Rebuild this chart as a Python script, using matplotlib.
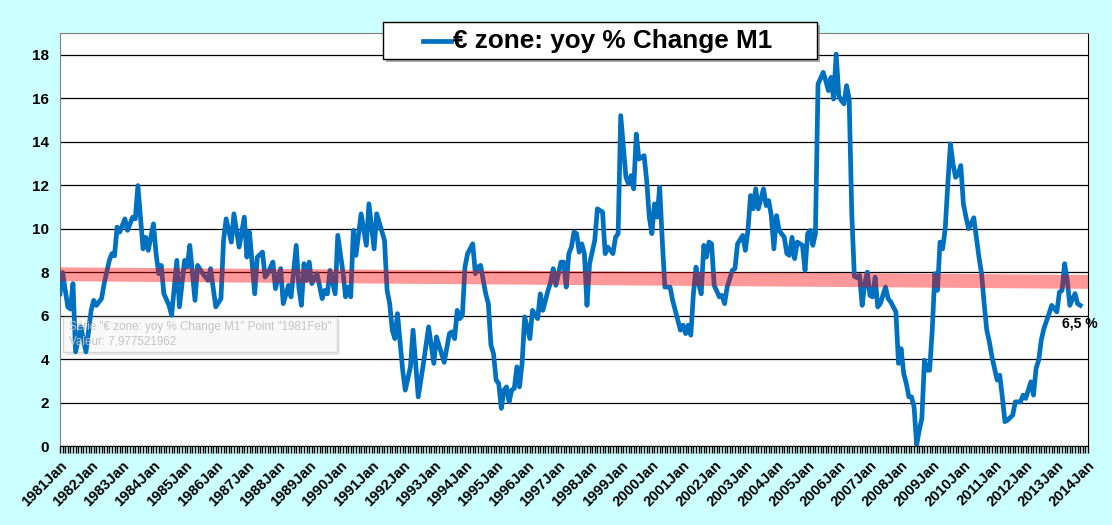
import matplotlib
matplotlib.use("Agg")
import matplotlib.pyplot as plt
from matplotlib.patches import Rectangle
from matplotlib.lines import Line2D
from matplotlib.ticker import MultipleLocator, FixedLocator

# ---------------------------------------------------------------------------
# data: months since 1981 Jan, yoy % change of euro M1
# ---------------------------------------------------------------------------
month_no = [
    0, 1, 3, 4, 5, 6, 8, 10, 12, 13, 14, 16, 17, 19, 20, 21, 22, 23, 25, 26,
    28, 29, 30, 32, 33, 34, 36, 37, 38, 39, 40, 42, 43, 45, 46, 48, 49, 50, 52, 53,
    55, 57, 58, 60, 62, 63, 64, 66, 67, 69, 71, 72, 73, 75, 76, 78, 79, 80, 82, 83,
    85, 86, 88, 89, 91, 92, 93, 94, 95, 96, 97, 99, 101, 102, 103, 104, 106, 107, 109, 110,
    111, 112, 113, 114, 116, 118, 119, 121, 122, 125, 126, 127, 128, 129, 130, 132, 133, 135, 136, 138,
    140, 142, 144, 145, 148, 150, 151, 152, 153, 154, 155, 156, 157, 159, 160, 161, 162, 164, 165, 166,
    167, 168, 169, 170, 171, 172, 173, 174, 175, 176, 177, 178, 179, 181, 182, 184, 185, 186, 188, 189,
    190, 191, 193, 194, 195, 196, 197, 198, 199, 200, 201, 202, 203, 204, 206, 207, 209, 210, 211, 212,
    213, 214, 215, 216, 218, 219, 220, 221, 222, 223, 225, 226, 227, 228, 229, 230, 231, 232, 233, 235,
    236, 238, 239, 240, 241, 242, 243, 244, 245, 246, 247, 248, 249, 250, 251, 252, 254, 255, 256, 257,
    259, 260, 261, 263, 264, 265, 266, 267, 268, 269, 271, 272, 273, 274, 275, 276, 277, 279, 280, 281,
    282, 283, 284, 286, 287, 288, 289, 290, 291, 292, 294, 295, 296, 297, 298, 299, 300, 301, 302, 303,
    304, 305, 306, 307, 308, 309, 310, 311, 312, 313, 314, 315, 316, 318, 319, 320, 322, 323, 324, 325,
    326, 327, 328, 329, 330, 331, 332, 333, 334, 335, 336, 337, 338, 339, 340, 341, 342, 343, 344, 345,
    346, 347, 348, 349, 350, 351, 352, 353, 354, 355, 356, 357, 358, 359, 361, 362, 363, 364, 365, 367,
    368, 370, 371, 372, 374, 375, 376, 377, 378, 379, 381, 382, 384, 385, 386, 387, 388, 389, 391, 392,
    393,
]
m1_yoy = [
    7.0, 7.98, 6.4, 6.3, 7.47, 4.33, 5.48, 4.33, 6.24, 6.7, 6.47, 6.78, 7.47, 8.54, 8.85, 8.75, 10.07, 9.84, 10.45, 9.92,
    10.53, 10.45, 11.98, 9.07, 9.6, 9.0, 10.22, 8.85, 7.93, 8.31, 7.01, 6.47, 6.01, 8.54, 6.4, 8.54, 8.23, 9.23, 6.7, 8.31,
    7.93, 7.62, 8.16, 6.4, 6.78, 9.46, 10.45, 9.38, 10.68, 9.15, 10.53, 8.69, 9.84, 7.0, 8.69, 8.92, 7.77, 7.93, 8.46, 7.24,
    8.16, 6.55, 7.39, 6.86, 9.23, 7.31, 6.47, 8.39, 7.62, 8.46, 7.47, 7.93, 6.78, 7.16, 7.0, 8.08, 7.0, 9.69, 8.0, 6.86,
    7.31, 6.86, 9.92, 8.77, 10.68, 9.23, 11.14, 9.07, 10.68, 9.46, 7.16, 6.55, 5.33, 4.94, 6.09, 3.49, 2.57, 3.64, 5.33, 2.26,
    3.8, 5.48, 3.8, 5.02, 3.85, 5.17, 5.25, 4.94, 6.24, 5.86, 6.01, 8.23, 8.85, 9.3, 7.93, 8.23, 8.31, 7.0, 6.55, 4.64,
    4.25, 3.03, 2.88, 1.73, 2.57, 2.72, 2.03, 2.57, 2.65, 3.64, 2.72, 3.8, 5.94, 4.94, 6.24, 5.86, 7.0, 6.24, 7.16, 7.54,
    8.16, 7.39, 8.46, 8.46, 7.31, 8.85, 9.15, 9.84, 9.77, 8.92, 9.3, 8.85, 6.47, 8.39, 9.46, 10.91, 10.76, 8.85, 9.15, 9.0,
    8.85, 9.6, 9.77, 15.2, 12.36, 12.06, 12.44, 11.83, 14.35, 13.2, 13.36, 12.21, 10.53, 9.77, 11.14, 10.53, 11.9, 9.46, 7.31, 7.31,
    6.7, 5.79, 5.33, 5.56, 5.17, 5.56, 5.1, 7.01, 8.23, 7.47, 7.0, 9.23, 8.69, 9.38, 9.3, 7.39, 6.86, 6.93, 6.55, 7.31,
    8.08, 8.16, 9.3, 9.69, 9.0, 9.92, 11.52, 10.91, 11.83, 10.91, 11.83, 11.06, 11.29, 10.6, 9.07, 10.6, 9.92, 9.6, 8.85, 8.77,
    9.6, 8.62, 9.38, 9.23, 8.08, 9.77, 9.92, 9.23, 9.77, 16.65, 17.19, 16.8, 16.35, 16.96, 15.96, 18.03, 16.12, 15.89, 15.74, 16.58,
    15.96, 10.7, 7.8, 7.75, 7.85, 6.47, 7.47, 8.0, 6.93, 6.86, 7.77, 6.4, 6.55, 7.31, 6.78, 6.63, 6.17, 3.8, 4.48, 3.34,
    2.88, 2.26, 2.26, 1.8, 0.05, 0.73, 1.27, 3.95, 3.49, 3.49, 5.33, 7.93, 7.16, 9.38, 9.07, 10.0, 12.06, 13.9, 12.98, 12.36,
    12.52, 12.9, 11.14, 10.53, 10.0, 10.22, 10.5, 9.6, 8.69, 7.93, 6.55, 5.33, 4.79, 4.1, 3.03, 3.26, 2.26, 1.12, 1.19, 1.42,
    2.03, 2.03, 2.34, 2.19, 2.95, 2.34, 3.57, 3.95, 4.87, 5.4, 6.09, 6.47, 6.17, 7.08, 7.16, 8.39, 7.62, 6.47, 7.01, 6.55,
    6.47,
]

# long-run trend band (drawn across the whole axis)
trend_months = [0, 396]
trend_values = [7.9, 7.55]

first_year, last_year = 1981, 2014
year_labels = [f"{y}Jan" for y in range(first_year, last_year + 1)]

series_name = "€ zone: yoy % Change M1"
last_label = "6,5 %"
tooltip_lines = ['Série "€ zone: yoy % Change M1" Point "1981Feb"',
                 "Valeur: 7,977521962"]

# ---------------------------------------------------------------------------
W, H = 1112, 525
BLUE = "#0070C0"
BG = "#CCFFFF"


def fx(px):
    return px / W


def fy(py):
    return 1 - py / H


fig = plt.figure(figsize=(W / 100, H / 100), dpi=100, facecolor=BG)
ax = fig.add_axes([fx(60), fy(446), fx(1088) - fx(60), fy(33) - fy(446)])
ax.set_facecolor("white")

ax.plot(month_no, m1_yoy, color=BLUE, lw=3.4, solid_joinstyle="round", zorder=3)
ax.plot(trend_months, trend_values, color="red", alpha=0.4, lw=10,
        solid_capstyle="butt", zorder=4)

ax.set_xlim(0, (last_year - first_year) * 12)
ax.set_ylim(0, 19)

ax.yaxis.set_major_locator(FixedLocator(range(0, 19, 2)))
ax.grid(axis="y", color="black", lw=0.9, zorder=1)
ax.set_axisbelow(True)
ax.tick_params(axis="y", length=0, pad=8)
for lab in ax.get_yticklabels():
    lab.set_fontfamily("Liberation Sans")
    lab.set_fontweight("bold")
    lab.set_fontsize(11)

ax.xaxis.set_minor_locator(MultipleLocator(1))
ax.set_xticks(range(0, (last_year - first_year) * 12 + 1, 12))
ax.set_xticklabels(year_labels, rotation=45, ha="right", rotation_mode="anchor",
                   fontweight="bold", fontsize=10.5, family="Liberation Sans")
ax.tick_params(axis="x", which="both", length=5, width=1, color="black",
               direction="out", pad=4)

for side in ("left", "top"):
    ax.spines[side].set_color("#808080")
for side in ("right", "bottom"):
    ax.spines[side].set_color("black")

# end value label
ax.annotate(last_label, xy=(month_no[-1], m1_yoy[-1]), xytext=(0, -13),
            textcoords="offset points", ha="center", va="center",
            fontsize=10, fontweight="bold", family="Liberation Sans", zorder=6)

# legend box (drawn by hand to get Excel's wide padding)
fig.patches.append(Rectangle((fx(386), fy(62)), fx(434), fy(0) - fy(37),
                             transform=fig.transFigure, facecolor="#707070",
                             edgecolor="none", alpha=0.6, zorder=8))
fig.patches.append(Rectangle((fx(383), fy(59)), fx(434), fy(0) - fy(37),
                             transform=fig.transFigure, facecolor="white",
                             edgecolor="black", lw=1, zorder=9))
fig.lines.append(Line2D([fx(423), fx(451)], [fy(41), fy(41)], color=BLUE, lw=3.4,
                        transform=fig.transFigure, zorder=10))
fig.text(fx(453), fy(41), series_name, ha="left", va="center", fontsize=18.8,
         fontweight="bold", family="Liberation Sans", zorder=10)

# faint Excel tooltip left in the screenshot
ax.add_patch(Rectangle((fx(66), fy(355)), fx(274), fy(0) - fy(35),
                       transform=fig.transFigure, facecolor="#bbbbbb",
                       edgecolor="none", alpha=0.3, zorder=2))
ax.add_patch(Rectangle((fx(63), fy(352)), fx(274), fy(0) - fy(35),
                       transform=fig.transFigure, facecolor="#fafafa",
                       edgecolor="#d4d4d4", lw=1, alpha=0.95, zorder=2.1))
fig.text(fx(69), fy(327), tooltip_lines[0], ha="left", va="center", fontsize=8.4,
         color="#c4c4c4", family="Liberation Sans", zorder=2.2)
fig.text(fx(69), fy(342), tooltip_lines[1], ha="left", va="center", fontsize=8.4,
         color="#c4c4c4", family="Liberation Sans", zorder=2.2)

fig.savefig("out.png", dpi=100, facecolor=BG)
